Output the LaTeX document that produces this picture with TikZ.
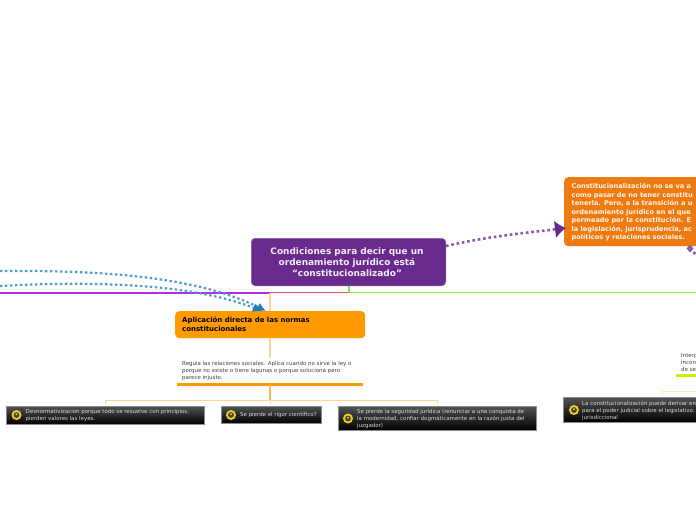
\documentclass[tikz,border=0pt]{standalone}
\usepackage{fontspec}
\setmainfont{DejaVu Sans}
\usetikzlibrary{arrows.meta,shadings,calc}
\definecolor{cpurple}{HTML}{682A8C}
\definecolor{corange}{HTML}{EE7A12}
\definecolor{napp}{HTML}{FF9A00}
\definecolor{lorange}{HTML}{FFD49A}
\definecolor{cblue}{HTML}{4A9CCB}
\definecolor{dblue}{HTML}{1B7DB5}
\definecolor{vdot}{HTML}{8A5AA8}
\definecolor{vline}{HTML}{B02CE8}
\definecolor{gline}{HTML}{86E83C}
\definecolor{lime}{HTML}{C8F000}
\definecolor{lbr}{HTML}{EEF59A}
\definecolor{icony}{HTML}{F2CF1A}
\tikzset{
 x=1pt,y=-1pt,
 rootbox/.style={draw=cpurple!75,fill=cpurple,rounded corners=4pt,line width=.5pt},
 orbox/.style={fill=corange,rounded corners=4pt},
 appbox/.style={fill=napp,rounded corners=4pt},
 darkbox/.style={top color=black!68,bottom color=black,inner sep=0,anchor=north west},
 darkedge/.style={draw=black!45,line width=.5pt},
 txt/.style={inner sep=0,anchor=north west,align=left},
 smalltxt/.style={txt,font=\fontsize{5.48}{7}\selectfont,text=black!75},
 darktxt/.style={txt,font=\fontsize{5.46}{7}\selectfont,text=black!15},
 bluedot/.style={cblue,line width=2.2pt,dash pattern=on 2.4pt off 2.6pt,-{Latex[dblue,length=9pt,width=9pt]}},
 purdot/.style={vdot,line width=2.6pt,dash pattern=on 2.6pt off 2.8pt},
 bracket/.style={lorange,line width=.9pt},
}
\newcommand{\lionicon}[1]{\fill[icony] (#1) circle (5pt);\fill[black!75] (#1) circle (2.9pt);\fill[icony] ($(#1)+(0,-.7)$) circle (1.1pt);}
\begin{document}
\begin{tikzpicture}
\useasboundingbox (0,0) rectangle (696,520);
\clip (0,0) rectangle (696,520);
% root
\node[rootbox,minimum width=194.5pt,minimum height=47.5pt,inner sep=0,anchor=north west] (root) at (251,238) {};
\node[inner sep=0,align=center,text=white!92!cpurple,font=\fontsize{8.95}{11.2}\selectfont\bfseries] (roottxt) at (347,262) {Condiciones para decir que un\\ordenamiento jurídico está\\“constitucionalizado”};
% branches
\coordinate (bl) at (0,292.5);
\coordinate (bj) at (270,292.5);
\coordinate (bg) at (349,292.5);
\coordinate (br) at (696,292.5);
\draw[vline,line width=2pt] (bl) -- (bj);
\draw[vline!50!orange,line width=1.8pt] (bj) -- (bg);
\draw[gline,line width=1.8pt] (bg) -- (br);
\draw[gline,line width=1.8pt] (root.south -| bg) -- (bg);
% app node
\node[appbox,minimum width=190pt,minimum height=27pt,inner sep=0,anchor=north west] (app) at (175,311) {};
\node[txt,font=\fontsize{6.95}{9}\selectfont\bfseries,text=black] (apptxt) at (182,316.5) {Aplicación directa de las normas\\constitucionales};
\draw[lorange,line width=1.6pt] (270,293) -- (270,311);
\coordinate (ua) at (177,384);
\coordinate (ub) at (363,384);
\draw[lorange,line width=1.3pt] (270,338) -- (270,358);
\node[smalltxt] (reg) at (182,361) {Regula las relaciones sociales. Aplica cuando no sirve la ley o\\porque no existe o tiene lagunas o porque soluciona pero\\parece injusto.};
\draw[napp,line width=3pt] (ua) -- (ub);
\draw[napp!70,line width=1.5pt] (270,385) -- (270,400);
% bracket
\coordinate (b1) at (105.5,400);
\coordinate (b2) at (270.5,400);
\coordinate (b3) at (437,400);
\draw[bracket] (105.5,404) -- (b1) -- (b3) -- (437,404);
\draw[bracket] (b2) -- (270.5,404);
% dark boxes
\node[darkbox,minimum width=197.5pt,minimum height=18pt] (d1) at (6.5,406) {};
\draw[darkedge] (d1.north west) rectangle (d1.south east);
\lionicon{16.5,415}
\node[darktxt] (d1t) at (25.5,408.7) {Desnormativizacion porque todo se resuelve con principios,\\pierden valores las leyes.};
\node[darkbox,minimum width=99.5pt,minimum height=17pt] (d2) at (221,406) {};
\draw[darkedge] (d2.north west) rectangle (d2.south east);
\lionicon{231,415}
\node[darktxt,anchor=west] (d2t) at (240,414.7) {Se pierde el rigor científico?};
\node[darkbox,minimum width=197.5pt,minimum height=24pt] (d3) at (338,406) {};
\draw[darkedge] (d3.north west) rectangle (d3.south east);
\lionicon{348,418.5}
\node[darktxt] (d3t) at (357,408.5) {Se pierde la seguridad jurídica (renunciar a una conquista de\\la modernidad, confiar dogmáticamente en la razón justa del\\juzgador)};
% right orange
\node[orbox,minimum width=150pt,minimum height=69pt,inner sep=0,anchor=north west] (con) at (564,177) {};
\node[txt,text=white!92!orange,font=\fontsize{6.6}{8.45}\selectfont\bfseries] (contxt) at (571.5,183.5) {Constitucionalización no se va a\\como pasar de no tener constitu\\tenerla. Pero, a la transición a u\\ordenamiento jurídico en el que\\permeado por la constitución. E\\la legislación, jurisprudencia, ac\\políticos y relaciones sociales.};
% right lower
\node[smalltxt] (int) at (681,353) {Interp\\incons\\de se};
\coordinate (lm1) at (676,375);
\coordinate (lm2) at (696,375);
\draw[lime,line width=3pt] (lm1) -- (lm2);
\draw[lbr,line width=.9pt] (662.5,395) -- (662.5,391.5) -- (696,391.5);
\node[darkbox,minimum width=150pt,minimum height=24.5pt] (d4) at (563.5,397.5) {};
\draw[darkedge] (d4.north west) rectangle (d4.south east);
\lionicon{574,410}
\node[darktxt] (d4t) at (582,400.5) {La constitucionalización puede derivar en\\para el poder judicial sobre el legislativo.\\jurisdiccional};
% dotted connectors
\coordinate (f1) at (0,271);
\coordinate (f2) at (0,286);
\coordinate (t1) at (266,311);
\coordinate (t2) at (262,311);
\draw[bluedot] (f1) .. controls (110,270) and (200,278) .. (t1);
\draw[bluedot] (f2) .. controls (90,281) and (190,283) .. (t2);
\coordinate (c2) at ($(con.west |- 0,228)+(2,0)$);
\draw[purdot,-{Latex[cpurple,length=11pt,width=18pt]}] (root.east |- 0,246) .. controls (490,236) and (525,233) .. (c2);
\coordinate (q1) at (690,248);
\coordinate (q2) at (697,256);
\draw[purdot] (q1) -- (q2);
\fill[vdot] (690,244.5) -- (693.5,248.5) -- (690,252.5) -- (686.5,248.5) -- cycle;
\end{tikzpicture}
\end{document}
